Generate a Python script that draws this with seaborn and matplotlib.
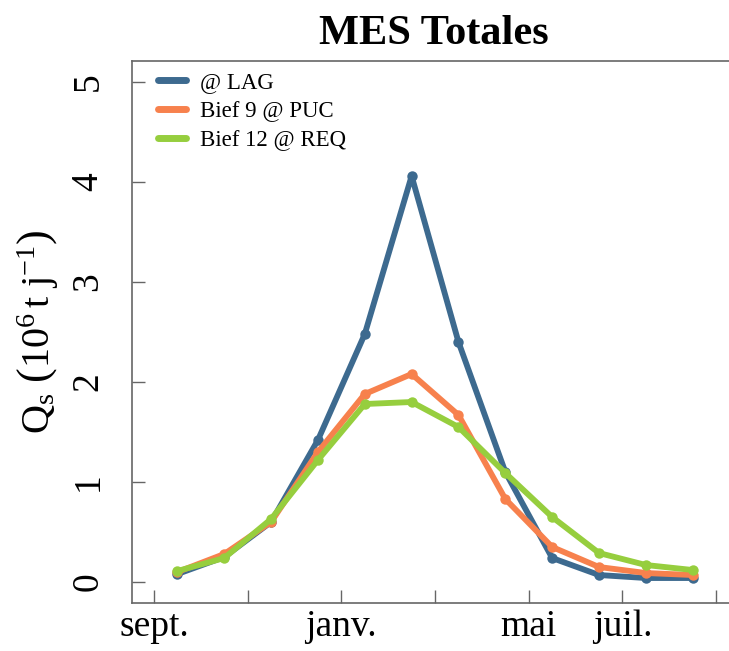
import pandas as pd
import numpy as np
import seaborn as sns
import matplotlib.pyplot as plt
from matplotlib.lines import Line2D

# Monthly suspended sediment flux, hydrological year (sept. -> août)
mois = np.arange(12) + 0.5
lag = [0.08, 0.25, 0.60, 1.42, 2.48, 4.06, 2.40, 1.10, 0.24, 0.07, 0.04, 0.04]
puc = [0.10, 0.28, 0.60, 1.30, 1.88, 2.08, 1.67, 0.83, 0.35, 0.15, 0.09, 0.07]
req = [0.11, 0.24, 0.63, 1.22, 1.78, 1.80, 1.55, 1.09, 0.65, 0.29, 0.17, 0.12]
stations = ['@ LAG', 'Bief 9 @ PUC', 'Bief 12 @ REQ']
couleurs = ['#3d6a8f', '#f7814d', '#96ce3e']

tick_pos = [0, 2, 4, 6, 8, 10, 12]
tick_lab = ['sept.', '', 'janv.', '', 'mai', 'juil.', '']

df = pd.DataFrame({
    'mois': np.tile(mois, 3),
    'Qs': lag + puc + req,
    'station': np.repeat(stations, 12),
})

sns.set_style('ticks')
plt.rcParams['font.family'] = ['Liberation Serif', 'DejaVu Serif']
plt.rcParams['text.color'] = 'black'
plt.rcParams['axes.labelcolor'] = 'black'
plt.rcParams['xtick.labelcolor'] = 'black'
plt.rcParams['ytick.labelcolor'] = 'black'
plt.rcParams['mathtext.fontset'] = 'custom'
plt.rcParams['mathtext.rm'] = 'Liberation Serif'
plt.rcParams['mathtext.it'] = 'Liberation Serif:italic'

fig = plt.figure(figsize=(7.29, 6.51), dpi=100)
ax = fig.add_axes([0.181, 0.0737, 0.829, 0.8326])

sns.lineplot(data=df, x='mois', y='Qs', hue='station', hue_order=stations,
             palette=couleurs, marker='o', markersize=7.5, markeredgewidth=0,
             linewidth=4.2, legend=False, ax=ax)

ax.set_xlim(-0.47, 12.43)
ax.set_ylim(-0.21, 5.21)
ax.set_xticks(tick_pos)
ax.set_xticklabels(tick_lab)
ax.set_yticks([0, 1, 2, 3, 4, 5])
ax.tick_params(axis='both', direction='in', length=9.5, width=1, color='#666666',
               labelsize=27, labelcolor='black')
ax.tick_params(axis='y', pad=19)
ax.tick_params(axis='x', pad=5)
for lab in ax.get_yticklabels():
    lab.set_rotation(90)
    lab.set_va('center')

for side in ['left', 'bottom', 'top']:
    ax.spines[side].set_color('#666666')
    ax.spines[side].set_linewidth(1.2)
ax.spines['right'].set_visible(False)

ax.set_xlabel('')
ax.set_ylabel(r'Q$_\mathrm{s}$ $\left(10^{6}\,\mathrm{t\ j^{-1}}\right)$', fontsize=29, labelpad=8)
ax.set_title('MES Totales', fontsize=30.5, fontweight='bold', pad=12)

handles = [Line2D([], [], color=c, linewidth=5, solid_capstyle='round') for c in couleurs]
ax.legend(handles, stations, loc='upper left', frameon=False, fontsize=16.5,
          handlelength=1.2, handletextpad=0.65, labelspacing=0.35,
          bbox_to_anchor=(0.028, 0.997), borderaxespad=0)

fig.savefig('out.png', dpi=100)
